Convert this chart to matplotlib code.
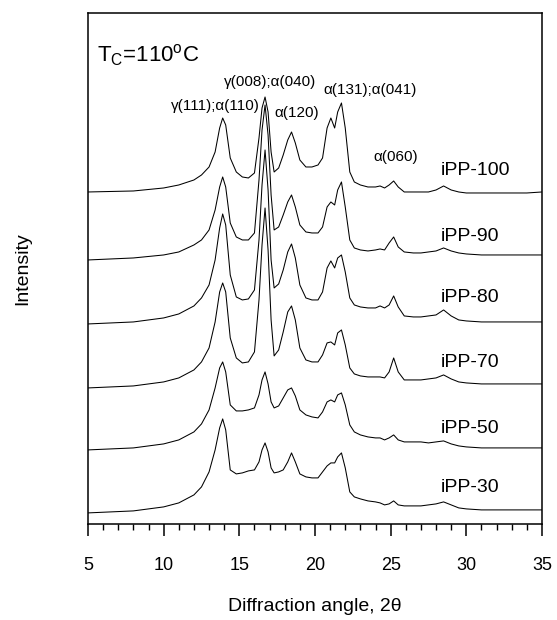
import numpy as np
import matplotlib
matplotlib.use("Agg")
import matplotlib.pyplot as plt
from matplotlib.ticker import MultipleLocator

plt.rcParams['font.family'] = ['Liberation Sans', 'DejaVu Sans']

# --- data (intensity in arbitrary units, patterns already stacked) ---
two_theta = [5, 8, 10, 11, 12, 12.5, 13, 13.4, 13.7, 13.9,
             14.1, 14.4, 14.8, 15.2, 15.6, 16.0, 16.3, 16.5, 16.7, 16.9,
             17.1, 17.3, 17.6, 17.9, 18.2, 18.45, 18.7, 19.0, 19.4, 19.8,
             20.2, 20.5, 20.8, 21.05, 21.3, 21.5, 21.75, 22.0, 22.3, 22.6,
             23.0, 23.5, 24.0, 24.3, 24.6, 24.9, 25.2, 25.5, 25.9, 26.5,
             27.0, 27.5, 28.0, 28.5, 29.0, 29.5, 30, 31, 32, 33, 34, 35]

ipp100 = [332, 333, 336, 339, 344, 349, 357, 372, 396, 406,
          399, 366, 352, 347, 346, 351, 386, 416, 427, 412,
          372, 352, 356, 369, 384, 392, 381, 364, 357, 357,
          359, 366, 396, 406, 396, 412, 421, 396, 352, 342,
          339, 337, 337, 338, 336, 339, 343, 337, 332, 332,
          332, 332, 334, 338, 334, 332, 331, 331, 331, 331, 331, 332]

ipp90 = [264, 266, 269, 272, 279, 284, 294, 314, 337, 347,
         337, 301, 287, 284, 284, 291, 344, 394, 419, 389,
         329, 294, 297, 309, 322, 329, 317, 299, 292, 291,
         291, 297, 317, 322, 319, 334, 342, 317, 284, 276,
         274, 273, 274, 275, 274, 281, 287, 277, 272, 271,
         271, 272, 273, 276, 273, 271, 270, 269, 269, 269, 269, 269]

ipp80 = [200, 202, 206, 210, 218, 226, 239, 264, 296, 310,
         299, 249, 227, 224, 225, 234, 284, 339, 374, 334,
         264, 236, 240, 254, 272, 280, 266, 239, 226, 224,
         224, 232, 256, 263, 256, 266, 269, 252, 226, 219,
         217, 216, 216, 218, 216, 219, 228, 217, 208, 207,
         207, 208, 209, 214, 208, 204, 203, 202, 202, 202, 202, 202]

ipp70 = [136, 138, 142, 146, 154, 162, 176, 202, 232, 241,
         232, 186, 166, 161, 162, 172, 224, 279, 316, 274,
         204, 168, 174, 192, 212, 218, 204, 176, 164, 162,
         162, 169, 181, 182, 179, 191, 194, 179, 156, 150,
         148, 147, 147, 147, 146, 152, 166, 152, 144, 144,
         144, 145, 146, 149, 145, 142, 141, 140, 140, 140, 140, 140]

ipp50 = [74, 76, 80, 84, 92, 100, 114, 136, 156, 162,
         152, 119, 113, 113, 114, 116, 129, 144, 152, 140,
         122, 116, 118, 126, 134, 136, 128, 114, 109, 107,
         106, 112, 122, 124, 122, 129, 131, 119, 99, 92,
         89, 87, 86, 86, 84, 86, 89, 84, 82, 82,
         82, 81, 82, 83, 80, 78, 77, 76, 76, 76, 76, 76]

ipp30 = [11, 13, 17, 21, 29, 37, 52, 74, 96, 105,
         94, 54, 50, 51, 53, 54, 62, 74, 81, 72,
         56, 51, 52, 54, 62, 71, 62, 50, 47, 46,
         46, 52, 58, 61, 61, 67, 71, 56, 32, 27,
         25, 23, 22, 21, 19, 20, 23, 19, 18, 18,
         18, 19, 20, 22, 19, 16, 15, 14, 14, 14, 14, 14]

sample_names = ["iPP-100", "iPP-90", "iPP-80", "iPP-70", "iPP-50", "iPP-30"]
name_levels = [353, 287, 226, 161, 95, 36]

peak_labels = ["γ(111);α(110)", "γ(008);α(040)", "α(120)", "α(131);α(041)", "α(060)"]
peak_label_x = [13.4, 17.03, 18.81, 23.64, 25.35]
peak_label_y = [418, 442, 411, 434, 367]


def main():
    fig = plt.figure(figsize=(5.57, 6.2), dpi=100)
    ax = fig.add_axes([0.158, 0.155, 0.815, 0.824])

    for ys in [ipp100, ipp90, ipp80, ipp70, ipp50, ipp30]:
        ax.plot(two_theta, ys, color="black", lw=0.75)

    for name, lvl in zip(sample_names, name_levels):
        ax.text(28.33, lvl, name, fontsize=14, ha="left", va="center")

    for lab, px, py in zip(peak_labels, peak_label_x, peak_label_y):
        ax.text(px, py, lab, fontsize=11, ha="center", va="center")

    ax.text(5.6, 462, r"T$_\mathregular{C}$=110$^\mathregular{o}$C", fontsize=16,
            ha="left", va="baseline")

    ax.set_xlim(5, 35)
    ax.set_ylim(0, 511)
    ax.xaxis.set_major_locator(MultipleLocator(5))
    ax.xaxis.set_minor_locator(MultipleLocator(1))
    ax.tick_params(axis="x", which="major", direction="out", length=8.5, width=1.1,
                   labelsize=13, pad=15)
    ax.tick_params(axis="x", which="minor", direction="out", length=4.5, width=1.0)
    ax.set_yticks([])
    for sp in ax.spines.values():
        sp.set_linewidth(1.1)

    ax.set_xlabel("Diffraction angle, 2θ", fontsize=14)
    ax.xaxis.set_label_coords(0.5, -0.145)
    ax.set_ylabel("Intensity", fontsize=14)
    ax.yaxis.set_label_coords(-0.126, 0.5)

    fig.savefig("out.png", dpi=100)


if __name__ == "__main__":
    main()
